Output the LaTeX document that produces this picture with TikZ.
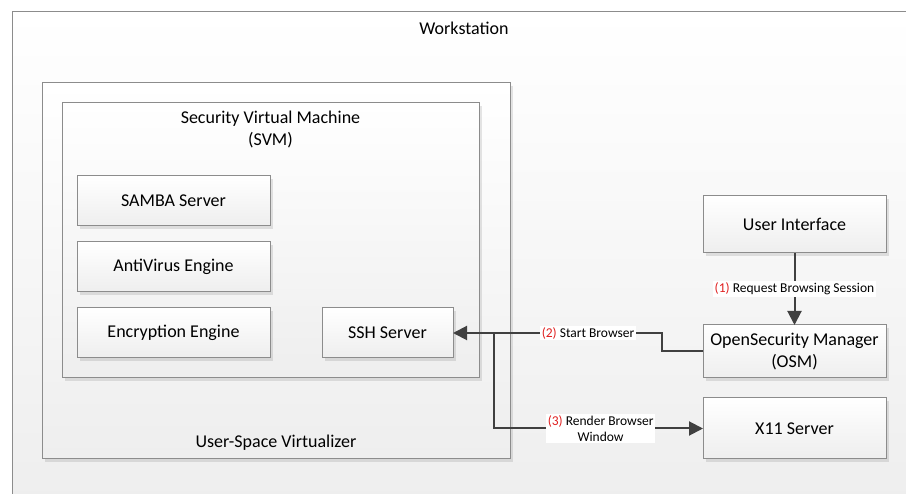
\documentclass[tikz,border=0pt]{standalone}
\usepackage{fontspec}
\setmainfont{Carlito}
\usetikzlibrary{shadows,arrows.meta}
\definecolor{edgecol}{HTML}{8C8C8C}
\definecolor{conncol}{HTML}{404040}
\definecolor{shadecol}{HTML}{EEEEEE}
\definecolor{numred}{HTML}{E02020}
\begin{document}
\begin{tikzpicture}[x=1pt,y=-1pt,
  every node/.style={inner sep=0pt, outer sep=0pt},
  frame/.style={draw=edgecol, line width=1pt, top color=white, bottom color=shadecol},
  boxshadow/.style={drop shadow={shadow xshift=3pt,shadow yshift=-3pt,fill=black,opacity=0.10}},
  compbox/.style={frame, boxshadow, font=\fontsize{18}{22}\selectfont, align=center},
  title/.style={font=\fontsize{18}{22}\selectfont, align=center},
  conn/.style={draw=conncol, line width=2pt},
  arr/.style={-{Triangle[length=14pt,width=14pt]}},
  lbl/.style={fill=white, inner sep=1.5pt, font=\fontsize{13.5}{16}\selectfont, align=center}
]
\useasboundingbox (0,0) rectangle (906,494);
\fill[white] (0,0) rectangle (906,494);
% containers
\node[frame, minimum width=903pt, minimum height=493pt] (ws) at (463.5,258.5) {};
\node[title] (wst) at (464,28) {Workstation};
\node[frame, boxshadow, minimum width=468pt, minimum height=376pt] (usv) at (276,271) {};
\node[title] (usvt) at (276,443) {User-Space Virtualizer};
\node[frame, boxshadow, minimum width=417pt, minimum height=275pt] (svm) at (270.5,240.5) {};
\node[title] (svmt) at (270.5,130) {Security Virtual Machine\\(SVM)};
% components
\node[compbox, minimum width=193pt, minimum height=50pt] (samba) at (173.5,201) {SAMBA Server};
\node[compbox, minimum width=193pt, minimum height=50pt] (av) at (173.5,267) {AntiVirus Engine};
\node[compbox, minimum width=193pt, minimum height=50pt] (enc) at (173.5,333) {Encryption Engine};
\node[compbox, minimum width=131pt, minimum height=50pt] (ssh) at (387.5,333) {SSH Server};
\node[compbox, minimum width=183pt, minimum height=57pt] (ui) at (794.5,224.5) {User Interface};
\node[compbox, minimum width=183pt, minimum height=53pt] (osm) at (794.5,351.5) {OpenSecurity Manager\\(OSM)};
\node[compbox, minimum width=183pt, minimum height=61pt] (x11) at (794.5,428.5) {X11 Server};
% connectors
\coordinate (b2) at (662,333);
\coordinate (br) at (494,333);
\draw[conn, arr] (ui.south) -- node[lbl] {\textcolor{numred}{(1)} Request Browsing Session} (osm.north);
\draw[conn, arr] (osm.west) -| (b2) -- node[lbl, pos=0.354] {\textcolor{numred}{(2)} Start Browser} (ssh.east);
\draw[conn, arr] (br) |- node[lbl, pos=0.755] {\textcolor{numred}{(3)} Render Browser\\Window} (x11.west);
\end{tikzpicture}
\end{document}
